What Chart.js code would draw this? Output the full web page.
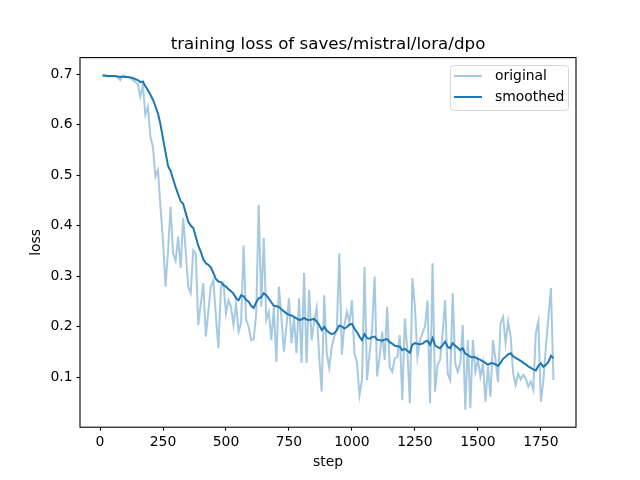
<!DOCTYPE html>
<html>
<head>
<meta charset="utf-8">
<script src="https://cdn.jsdelivr.net/npm/chart.js@4.4.1/dist/chart.umd.min.js"></script>
<style>
  html, body { margin: 0; padding: 0; background: #fff; }
  canvas { display: block; }
</style>
</head>
<body>
<canvas id="chart" width="640" height="480"></canvas>
<script>
// logged every 10 steps
const steps = [
  10, 20, 30, 40, 50, 60, 70, 80, 90, 100, 110, 120, 130, 140, 150, 160, 170, 180, 190, 200,
  210, 220, 230, 240, 250, 260, 270, 280, 290, 300, 310, 320, 330, 340, 350, 360, 370, 380, 390, 400,
  410, 420, 430, 440, 450, 460, 470, 480, 490, 500, 510, 520, 530, 540, 550, 560, 570, 580, 590, 600,
  610, 620, 630, 640, 650, 660, 670, 680, 690, 700, 710, 720, 730, 740, 750, 760, 770, 780, 790, 800,
  810, 820, 830, 840, 850, 860, 870, 880, 890, 900, 910, 920, 930, 940, 950, 960, 970, 980, 990, 1000,
  1010, 1020, 1030, 1040, 1050, 1060, 1070, 1080, 1090, 1100, 1110, 1120, 1130, 1140, 1150, 1160, 1170, 1180, 1190, 1200,
  1210, 1220, 1230, 1240, 1250, 1260, 1270, 1280, 1290, 1300, 1310, 1320, 1330, 1340, 1350, 1360, 1370, 1380, 1390, 1400,
  1410, 1420, 1430, 1440, 1450, 1460, 1470, 1480, 1490, 1500, 1510, 1520, 1530, 1540, 1550, 1560, 1570, 1580, 1590, 1600,
  1610, 1620, 1630, 1640, 1650, 1660, 1670, 1680, 1690, 1700, 1710, 1720, 1730, 1740, 1750, 1760, 1770, 1780, 1790, 1800
];

const originalLoss = [
  0.697, 0.696, 0.695, 0.696, 0.695, 0.696, 0.694, 0.688, 0.696, 0.695,
  0.694, 0.693, 0.688, 0.684, 0.680, 0.655, 0.678, 0.619, 0.635, 0.576,
  0.556, 0.497, 0.510, 0.437, 0.370, 0.279, 0.350, 0.437, 0.345, 0.330,
  0.378, 0.316, 0.415, 0.350, 0.279, 0.266, 0.351, 0.345, 0.203, 0.245,
  0.286, 0.180, 0.230, 0.279, 0.292, 0.220, 0.157, 0.279, 0.286, 0.226,
  0.252, 0.239, 0.203, 0.246, 0.190, 0.207, 0.361, 0.213, 0.200, 0.173,
  0.175, 0.226, 0.441, 0.239, 0.375, 0.213, 0.229, 0.173, 0.239, 0.130,
  0.279, 0.219, 0.150, 0.200, 0.256, 0.167, 0.217, 0.147, 0.256, 0.128,
  0.306, 0.128, 0.272, 0.173, 0.210, 0.237, 0.140, 0.071, 0.262, 0.147,
  0.118, 0.160, 0.180, 0.193, 0.345, 0.144, 0.203, 0.229, 0.207, 0.252,
  0.147, 0.128, 0.064, 0.094, 0.318, 0.094, 0.147, 0.193, 0.299, 0.101,
  0.140, 0.190, 0.134, 0.239, 0.120, 0.110, 0.137, 0.140, 0.183, 0.054,
  0.216, 0.153, 0.048, 0.296, 0.239, 0.140, 0.173, 0.187, 0.200, 0.252,
  0.048, 0.325, 0.071, 0.124, 0.134, 0.187, 0.252, 0.107, 0.094, 0.266,
  0.127, 0.110, 0.127, 0.203, 0.035, 0.173, 0.038, 0.173, 0.110, 0.134,
  0.101, 0.127, 0.051, 0.120, 0.061, 0.173, 0.134, 0.090, 0.206, 0.219,
  0.167, 0.210, 0.180, 0.107, 0.084, 0.107, 0.095, 0.104, 0.097, 0.081,
  0.091, 0.075, 0.187, 0.210, 0.051, 0.094, 0.160, 0.219, 0.276, 0.094
];

const smoothedLoss = [
  0.697, 0.697, 0.696, 0.696, 0.696, 0.696, 0.695, 0.694, 0.695, 0.694,
  0.694, 0.693, 0.692, 0.690, 0.688, 0.684, 0.685, 0.676, 0.668, 0.659,
  0.649, 0.636, 0.622, 0.600, 0.572, 0.545, 0.518, 0.508, 0.492, 0.476,
  0.462, 0.448, 0.443, 0.425, 0.408, 0.400, 0.395, 0.378, 0.360, 0.348,
  0.333, 0.325, 0.322, 0.317, 0.306, 0.294, 0.289, 0.288, 0.282, 0.279,
  0.274, 0.270, 0.265, 0.256, 0.252, 0.262, 0.260, 0.253, 0.249, 0.241,
  0.237, 0.248, 0.256, 0.258, 0.266, 0.262, 0.255, 0.248, 0.241, 0.240,
  0.239, 0.234, 0.230, 0.226, 0.223, 0.222, 0.219, 0.216, 0.213, 0.214,
  0.217, 0.214, 0.213, 0.214, 0.215, 0.210, 0.203, 0.193, 0.199, 0.192,
  0.188, 0.185, 0.187, 0.193, 0.202, 0.200, 0.196, 0.199, 0.204, 0.205,
  0.196, 0.189, 0.180, 0.173, 0.185, 0.177, 0.176, 0.179, 0.180, 0.174,
  0.173, 0.172, 0.174, 0.175, 0.169, 0.166, 0.162, 0.161, 0.160, 0.153,
  0.156, 0.152, 0.148, 0.164, 0.167, 0.166, 0.165, 0.166, 0.170, 0.172,
  0.164, 0.177, 0.163, 0.159, 0.157, 0.163, 0.170, 0.160, 0.157, 0.167,
  0.162, 0.158, 0.153, 0.157, 0.146, 0.144, 0.140, 0.139, 0.139, 0.136,
  0.134, 0.131, 0.128, 0.124, 0.127, 0.127, 0.125, 0.122, 0.128, 0.136,
  0.140, 0.145, 0.147, 0.141, 0.138, 0.135, 0.132, 0.128, 0.125, 0.121,
  0.118, 0.115, 0.113, 0.122, 0.127, 0.120, 0.124, 0.130, 0.142, 0.137
];

const xTicks = [0, 250, 500, 750, 1000, 1250, 1500, 1750];
const yTicks = [0.1, 0.2, 0.3, 0.4, 0.5, 0.6, 0.7];

const FONT = 'DejaVu Sans, Liberation Sans, sans-serif';
const BLUE = '#1f77b4';
const LIGHT = 'rgba(31, 119, 180, 0.4)';

// frame, title, axis labels and legend, drawn the matplotlib way
const decorations = {
  id: 'decorations',
  afterDraw(chart) {
    const { ctx, chartArea: a } = chart;
    ctx.save();
    ctx.strokeStyle = '#000';
    ctx.lineWidth = 1.1;
    ctx.strokeRect(a.left, a.top, a.right - a.left, a.bottom - a.top);

    ctx.fillStyle = '#000';
    ctx.textAlign = 'center';
    ctx.textBaseline = 'alphabetic';
    ctx.font = '16.7px ' + FONT;
    ctx.fillText('training loss of saves/mistral/lora/dpo', (a.left + a.right) / 2, a.top - 8.5);

    ctx.font = '13.9px ' + FONT;
    ctx.textBaseline = 'middle';
    ctx.fillText('step', (a.left + a.right) / 2, 462);
    ctx.save();
    ctx.translate(36, (a.top + a.bottom) / 2);
    ctx.rotate(-Math.PI / 2);
    ctx.fillText('loss', 0, 0);
    ctx.restore();

    // legend
    const lx = 450.5, ly = 65.5, lw = 118, lh = 45;
    ctx.beginPath();
    ctx.roundRect(lx, ly, lw, lh, 3);
    ctx.fillStyle = 'rgba(255,255,255,0.8)';
    ctx.fill();
    ctx.strokeStyle = '#d6d6d6';
    ctx.lineWidth = 1;
    ctx.stroke();

    const rows = [['original', LIGHT, 76], ['smoothed', BLUE, 97]];
    ctx.lineWidth = 2;
    ctx.textAlign = 'left';
    rows.forEach(([label, color, y]) => {
      ctx.strokeStyle = color;
      ctx.beginPath();
      ctx.moveTo(454, y);
      ctx.lineTo(482, y);
      ctx.stroke();
      ctx.fillStyle = '#000';
      ctx.fillText(label, 495, y);
    });
    ctx.restore();
  }
};

new Chart(document.getElementById('chart'), {
  type: 'line',
  data: {
    datasets: [
      {
        label: 'original',
        data: steps.map((s, i) => ({ x: s, y: originalLoss[i] })),
        borderColor: LIGHT,
        borderWidth: 2,
        pointRadius: 0,
        tension: 0
      },
      {
        label: 'smoothed',
        data: steps.map((s, i) => ({ x: s, y: smoothedLoss[i] })),
        borderColor: BLUE,
        borderWidth: 2,
        pointRadius: 0,
        tension: 0
      }
    ]
  },
  options: {
    responsive: false,
    animation: false,
    layout: { padding: { top: 57.6, right: 64, left: 0, bottom: 0 } },
    plugins: { legend: { display: false }, tooltip: { enabled: false } },
    scales: {
      x: {
        type: 'linear',
        min: -79.5,
        max: 1889.5,
        afterBuildTicks: s => { s.ticks = xTicks.map(v => ({ value: v })); },
        afterFit: s => { s.height = 52.8; },
        ticks: {
          color: '#000',
          font: { family: FONT, size: 13.9 },
          padding: 3,
          maxRotation: 0,
          callback: v => String(v)
        },
        grid: { drawOnChartArea: false, drawTicks: true, tickLength: 3.5, tickColor: '#000', tickWidth: 1.1 },
        border: { display: false }
      },
      y: {
        min: 0.0006,
        max: 0.7325,
        afterBuildTicks: s => { s.ticks = yTicks.map(v => ({ value: v })); },
        afterFit: s => { s.width = 80; },
        ticks: {
          color: '#000',
          font: { family: FONT, size: 13.9 },
          padding: 4,
          callback: v => v.toFixed(1)
        },
        grid: { drawOnChartArea: false, drawTicks: true, tickLength: 3.5, tickColor: '#000', tickWidth: 1.1 },
        border: { display: false }
      }
    }
  },
  plugins: [decorations]
});
</script>
</body>
</html>
